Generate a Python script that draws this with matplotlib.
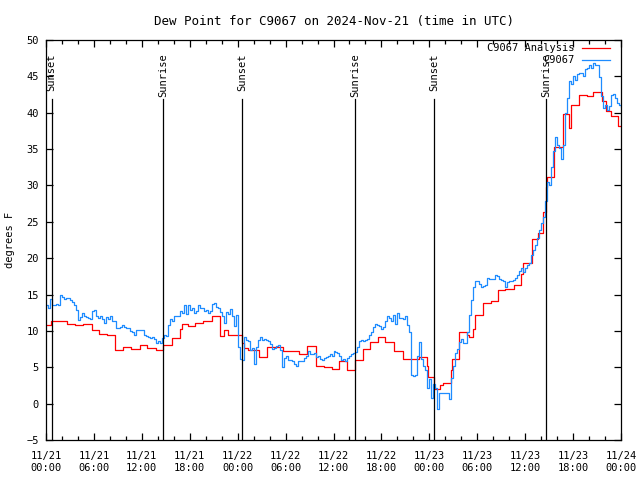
import numpy as np
import matplotlib
matplotlib.use("Agg")
import matplotlib.pyplot as plt

# ==========================================================
# Data  (hours since 2024-11-21 00:00 UTC)
# ==========================================================

TITLE = "Dew Point for C9067 on 2024-Nov-21 (time in UTC)"

tick_hours = [0, 6, 12, 18, 24, 30, 36, 42, 48, 54, 60, 66, 72]
tick_labels = [
    "11/21\n00:00", "11/21\n06:00", "11/21\n12:00", "11/21\n18:00",
    "11/22\n00:00", "11/22\n06:00", "11/22\n12:00", "11/22\n18:00",
    "11/23\n00:00", "11/23\n06:00", "11/23\n12:00", "11/23\n18:00",
    "11/24\n00:00",
]

sun_hours = [0.71, 14.69, 24.58, 38.73, 48.62, 62.65]
sun_labels = ["Sunset", "Sunrise", "Sunset", "Sunrise", "Sunset", "Sunrise"]

# station obs, one value every 15 minutes
obs_step = 0.25
obs_vals = [
    13.6, 13.2, 14.4, 13.6, 13.6, 13.7, 13.6, 14.9, 14.6, 14.4, 14.5, 14.5,
    14.3, 14.0, 13.6, 12.9, 11.5, 11.9, 12.5, 12.0, 11.9, 11.8, 11.7, 12.8,
    12.9, 12.0, 11.8, 12.0, 11.6, 11.1, 11.9, 11.6, 12.0, 11.3, 11.3, 10.4,
    10.45, 10.5, 10.8, 10.6, 10.4, 10.35, 10.0, 9.9, 9.44, 10.1, 10.1, 10.1,
    10.1, 9.4, 9.3, 9.2, 9.0, 9.1, 8.9, 8.3, 8.6, 8.3, 9.0, 9.4,
    9.3, 10.8, 11.6, 11.4, 12.1, 12.0, 12.1, 12.8, 12.5, 13.5, 12.3, 13.5,
    12.9, 13.2, 12.5, 12.7, 13.5, 13.2, 13.1, 12.7, 12.9, 12.4, 12.7, 13.7,
    13.8, 13.3, 13.1, 12.6, 12.0, 11.1, 12.6, 12.3, 13.0, 12.0, 10.7, 12.2,
    7.8, 6.1, 6.0, 9.2, 8.8, 8.6, 7.4, 7.6, 5.5, 7.8, 8.8, 9.2,
    8.8, 8.9, 8.7, 8.6, 8.2, 7.5, 7.6, 7.9, 8.0, 7.4, 5.0, 6.3,
    6.6, 6.0, 6.0, 5.9, 5.4, 5.2, 5.8, 5.9, 5.9, 6.3, 6.6, 7.2,
    6.8, 6.8, 7.0, 6.4, 6.5, 6.2, 6.0, 6.3, 6.4, 6.6, 6.8, 6.6,
    7.3, 7.1, 7.0, 6.5, 6.0, 6.1, 5.9, 6.3, 6.6, 6.8, 6.9, 7.1,
    7.8, 8.6, 8.8, 8.6, 8.8, 8.9, 9.4, 9.8, 10.6, 11.0, 10.8, 10.7,
    10.3, 10.6, 11.3, 12.1, 11.8, 11.4, 12.2, 11.0, 12.5, 11.8, 11.8, 11.7,
    12.0, 10.8, 9.8, 4.0, 3.8, 3.9, 6.5, 8.5, 6.2, 5.2, 4.6, 2.2,
    3.4, 0.8, 2.7, 2.2, -0.8, 1.5, 1.5, 1.4, 1.4, 1.4, 0.6, 3.5,
    5.2, 7.0, 7.5, 8.5, 8.9, 8.4, 8.3, 9.9, 12.2, 14.2, 16.0, 16.8,
    16.8, 16.5, 16.1, 16.2, 16.3, 17.3, 17.1, 17.1, 17.1, 17.7, 17.5, 17.1,
    17.0, 16.8, 16.0, 16.7, 16.8, 16.8, 17.0, 17.3, 17.7, 18.2, 18.7, 18.1,
    18.7, 19.1, 19.3, 20.4, 21.1, 21.8, 22.8, 23.9, 24.8, 25.6, 27.8, 30.5,
    30.1, 32.5, 34.8, 36.7, 35.6, 35.2, 33.6, 35.5, 40.0, 42.0, 44.3, 44.0,
    45.0, 44.5, 45.3, 45.5, 45.4, 45.1, 46.0, 46.2, 46.6, 46.2, 46.8, 46.5,
    46.6, 44.9, 42.3, 40.6, 41.0, 40.4, 40.9, 42.5, 42.6, 42.0, 41.3, 41.0,
    40.8,
]

# analysis, stepped values (hour the value starts)
anl_hours = [
    0.0, 0.63, 2.63, 3.63, 4.63, 5.76, 6.64, 7.64, 8.64, 9.64, 10.64, 11.77,
    12.65, 13.77, 14.65, 15.78, 16.78, 17.03, 17.78, 18.66, 19.66, 20.79,
    21.79, 22.23, 22.79, 24.58, 24.79, 25.29, 26.67, 27.67, 29.68, 31.68,
    32.68, 33.81, 34.81, 35.81, 36.69, 37.69, 38.73, 39.69, 40.57, 41.57,
    42.45, 43.58, 44.7, 46.71, 47.71, 47.83, 48.59, 49.34, 49.71, 50.68,
    50.84, 51.71, 52.72, 52.97, 53.47, 53.72, 54.73, 55.72, 56.6, 57.48,
    58.6, 59.48, 59.73, 60.86, 61.61, 62.23, 62.55, 62.74, 63.62, 64.74,
    65.55, 65.74, 66.74, 67.74, 68.49, 69.62, 70.12, 70.75, 71.63,
]
anl_vals = [
    10.8, 11.35, 10.95, 10.86, 10.95, 10.1, 9.6, 9.44, 7.4, 7.8, 7.5, 8.0,
    7.6, 7.4, 8.06, 9.0, 10.2, 10.95, 10.72, 11.13, 11.36, 12.05,
    9.3, 10.1, 9.5, 8.4, 7.6, 7.38, 6.37, 7.83, 7.24, 6.83,
    7.88, 5.22, 5.04, 4.72, 5.86, 4.6, 5.96, 7.47, 8.52, 9.1,
    8.43, 7.24, 6.12, 6.41, 5.2, 3.6, 2.0, 2.5, 2.9, 4.6,
    6.2, 9.9, 9.45, 9.2, 10.3, 12.2, 13.8, 14.1, 15.6, 15.8,
    16.3, 17.8, 19.3, 22.6, 23.5, 26.4, 29.8, 31.1, 35.3, 39.8,
    37.9, 41.06, 42.5, 42.3, 42.8, 41.6, 40.2, 39.6, 38.2,
]

END_HOUR = 72

# ==========================================================
# Style
# ==========================================================

plt.rcParams["font.family"] = ["DejaVu Sans Mono"]
plt.rcParams["font.size"] = 7.5

BLUE = "#1e8cff"
RED = "#ff0000"

# ==========================================================
# Plot
# ==========================================================

fig = plt.figure(figsize=(6.4, 4.8), dpi=100)
ax = fig.add_axes([46 / 640, 40 / 480, 575 / 640, 400 / 480])

obs_hours = np.arange(len(obs_vals)) * obs_step

ax.step(np.append(anl_hours, END_HOUR), np.append(anl_vals, anl_vals[-1]),
        where="post", color=RED, lw=0.9, label="C9067 Analysis")
ax.step(obs_hours, obs_vals, where="post", color=BLUE, lw=0.9, label="C9067")

for h, lab in zip(sun_hours, sun_labels):
    ax.plot([h, h], [-5, 41.9], color="black", lw=0.9)
    ax.text(h, 48.2, lab, rotation=90, ha="center", va="top")

ax.set_xlim(0, END_HOUR)
ax.set_ylim(-5, 50)

ax.set_xticks(tick_hours)
ax.set_xticklabels(tick_labels, linespacing=1.25)
ax.set_xticks(np.arange(0, END_HOUR + 1, 2), minor=True)
ax.set_yticks(np.arange(-5, 51, 5))

ax.tick_params(axis="both", which="both", direction="in",
               top=True, right=True, width=0.9)
ax.tick_params(axis="x", which="major", length=5, pad=8)
ax.tick_params(axis="x", which="minor", length=3)
ax.tick_params(axis="y", which="major", length=5, pad=5)

for s in ax.spines.values():
    s.set_linewidth(0.9)

ax.set_ylabel("degrees F", labelpad=8)
ax.set_title(TITLE, pad=11)

ax.legend(loc="upper right", bbox_to_anchor=(0.981, 0.992), frameon=False,
          markerfirst=False, handlelength=2.7, handletextpad=0.7,
          labelspacing=0.2, borderpad=0, borderaxespad=0)

fig.savefig("out.png", dpi=100)
